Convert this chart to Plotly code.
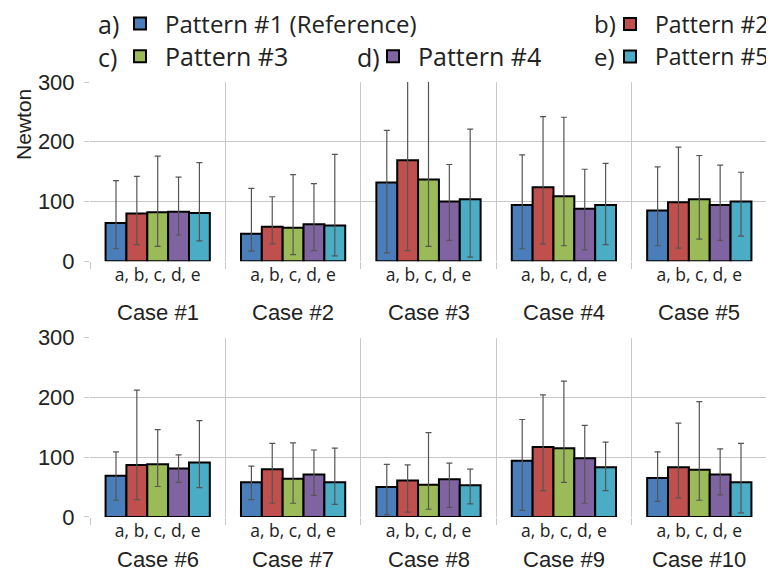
import plotly.graph_objects as go

# ---------------- data ----------------
case_labels = ["Case #1", "Case #2", "Case #3", "Case #4", "Case #5",
               "Case #6", "Case #7", "Case #8", "Case #9", "Case #10"]
group_label = "a, b, c, d, e"
pattern_tags = ["a)", "b)", "c)", "d)", "e)"]
pattern_names = ["Pattern #1 (Reference)", "Pattern #2", "Pattern #3",
                 "Pattern #4", "Pattern #5"]
y_ticks = [0, 100, 200, 300]

# mean values (Newton) per pattern, cases 1..10
mean_a = [64, 46, 132, 94, 85, 69, 58, 50, 94, 65]
mean_b = [80, 58, 169, 124, 99, 87, 80, 61, 117, 83]
mean_c = [82, 56, 137, 109, 104, 88, 64, 54, 115, 79]
mean_d = [83, 62, 100, 88, 94, 81, 71, 63, 98, 71]
mean_e = [81, 60, 104, 94, 100, 91, 58, 53, 83, 58]

# upper whisker ends
upper_a = [135, 122, 219, 178, 158, 109, 85, 88, 163, 109]
upper_b = [142, 108, 330, 242, 191, 212, 123, 87, 204, 157]
upper_c = [176, 145, 330, 241, 177, 146, 124, 141, 227, 193]
upper_d = [141, 130, 162, 154, 161, 104, 112, 90, 153, 114]
upper_e = [165, 179, 221, 164, 149, 161, 115, 80, 125, 123]

# lower whisker ends
lower_a = [21, 17, 14, 21, 26, 28, 29, 4, 11, 26]
lower_b = [28, 29, 18, 29, 22, 29, 23, 8, 44, 32]
lower_c = [25, 11, 25, 26, 37, 51, 23, 13, 58, 28]
lower_d = [44, 18, 35, 19, 35, 58, 36, 16, 23, 37]
lower_e = [34, 9, 7, 28, 42, 49, 21, 22, 44, 7]

colors = ["#4A7EBB", "#C0504D", "#9BBB59", "#8064A2", "#4BACC6"]

means = [mean_a, mean_b, mean_c, mean_d, mean_e]
uppers = [upper_a, upper_b, upper_c, upper_d, upper_e]
lowers = [lower_a, lower_b, lower_c, lower_d, lower_e]

# ---------------- styling ----------------
GRID = "#C8C8C8"
TXT = "#222222"
AX_FONT = "Liberation Sans, Arial, sans-serif"
LEG_FONT = "Open Sans, sans-serif"

# the page body has an 8px margin, so the figure is sized to fit the window
OFF = 8
W, H = 774 - OFF, 574 - OFF
# plot area in page pixels: x 90..766.7, y 81.5..517
ML = 90 - OFF
MR = W - (766.7 - OFF)
MT = 81.5 - OFF
MB = H - (517 - OFF)
PW, PH = W - ML - MR, H - MT - MB

def px_to_paper_x(px):
    return (px - OFF - ML) / PW

def px_to_paper_y(py):
    return (H - MB - (py - OFF)) / PH

fig = go.Figure()
legend_ids = ["legend", "legend2", "legend3", "legend4", "legend5"]

for k in range(5):
    for row in range(2):
        sl = slice(row * 5, row * 5 + 5)
        v = means[k][sl]
        up = [u - m for u, m in zip(uppers[k][sl], v)]
        dn = [m - l for m, l in zip(v, lowers[k][sl])]
        fig.add_trace(go.Bar(
            x=list(range(5)), y=v,
            name=pattern_names[k],
            marker=dict(color=colors[k], line=dict(color="black", width=2)),
            error_y=dict(type="data", symmetric=False, array=up, arrayminus=dn,
                         color="#555555", thickness=1.2, width=3),
            xaxis="x" if row == 0 else "x2",
            yaxis="y" if row == 0 else "y2",
            legend=legend_ids[k],
            showlegend=(row == 0),
            offsetgroup=str(k),
        ))

def xaxis(anchor):
    return dict(
        anchor=anchor, domain=[0, 1], range=[-0.5, 4.5],
        tickmode="array", tickvals=list(range(5)), ticktext=[group_label] * 5,
        ticks="", showgrid=False, zeroline=False, showline=False,
        tickfont=dict(family=LEG_FONT, size=17.5, color=TXT),
        ticklabelstandoff=1,
        minor=dict(tickmode="array", tickvals=[i - 0.5 for i in range(6)],
                   ticks="outside", ticklen=7, tickcolor=GRID, tickwidth=1,
                   showgrid=True, gridcolor=GRID, gridwidth=1),
    )

def yaxis(anchor, domain):
    return dict(
        anchor=anchor, domain=domain, range=[0, 300],
        tickmode="array", tickvals=y_ticks,
        ticks="outside", ticklen=5, tickcolor=GRID,
        showgrid=True, gridcolor=GRID, gridwidth=1,
        zeroline=False, showline=False,
        tickfont=dict(family=AX_FONT, size=22, color=TXT),
        ticklabelstandoff=5,
    )

# legend (symbol + name) anchor positions in page px; None -> right-aligned to edge
leg_px = [(115, 24), (None, 24), (115, 56.5), (368, 56.5), (None, 56.5)]
leg_size = [24, 23, 25, 25, 23]
tag_size = [25, 24, 25, 25, 24]
legends = {}
for k in range(5):
    xpx, ypx = leg_px[k]
    legends[legend_ids[k]] = dict(
        x=1.0 if xpx is None else (xpx - OFF) / W,
        y=1 - (ypx - OFF) / H,
        xref="container", yref="container",
        xanchor="right" if xpx is None else "left", yanchor="middle",
        orientation="h",
        bgcolor="rgba(0,0,0,0)", borderwidth=0, itemwidth=40,
        font=dict(family=LEG_FONT, size=leg_size[k], color=TXT),
    )

annotations = []
# legend tags a) .. e)
tag_px = [(96, 23), (592, 23), (96, 56), (355, 56), (592, 56)]
for k in range(5):
    annotations.append(dict(text=pattern_tags[k], x=px_to_paper_x(tag_px[k][0]), xref="paper",
                            y=px_to_paper_y(tag_px[k][1]), yref="paper",
                            showarrow=False, xanchor="left", yanchor="middle",
                            font=dict(family=LEG_FONT, size=tag_size[k], color=TXT)))
for i in range(5):
    annotations.append(dict(text=case_labels[i], x=i, xref="x", y=px_to_paper_y(312.5), yref="paper",
                            showarrow=False, xanchor="center", yanchor="middle",
                            font=dict(family=AX_FONT, size=22, color=TXT)))
    annotations.append(dict(text=case_labels[i + 5], x=i, xref="x2", y=px_to_paper_y(560), yref="paper",
                            showarrow=False, xanchor="center", yanchor="middle",
                            font=dict(family=AX_FONT, size=22, color=TXT)))
annotations.append(dict(text="Newton", x=px_to_paper_x(24), xref="paper", y=px_to_paper_y(123.5),
                        yref="paper", textangle=-90, showarrow=False,
                        xanchor="center", yanchor="middle",
                        font=dict(family=AX_FONT, size=21, color=TXT)))

fig.update_layout(
    width=W, height=H,
    margin=dict(l=ML, r=MR, t=MT, b=MB, autoexpand=False),
    paper_bgcolor="white", plot_bgcolor="white",
    barmode="group", bargap=0.23, bargroupgap=0,
    xaxis=xaxis("y"), yaxis=yaxis("x", [px_to_paper_y(261), 1.0]),
    xaxis2=xaxis("y2"), yaxis2=yaxis("x2", [0.0, px_to_paper_y(337.3)]),
    annotations=annotations,
    **legends,
)

fig.write_html("out.html")
